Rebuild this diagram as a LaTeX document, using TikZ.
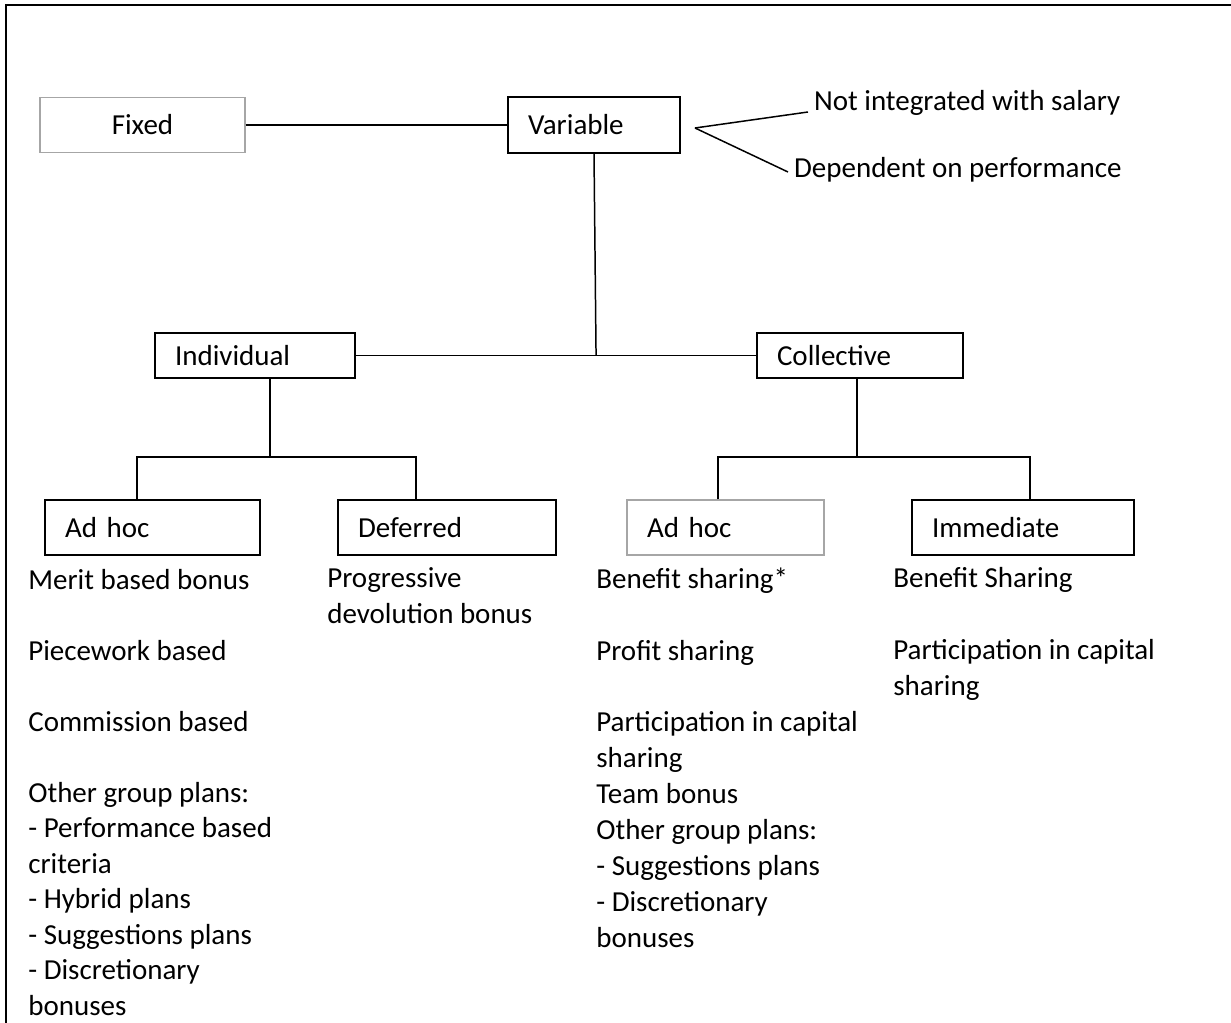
\documentclass[tikz,border=0pt]{standalone}
\usepackage{fontspec}
\setmainfont{Carlito}
\usetikzlibrary{calc}
\tikzset{
  box/.style={draw,line width=0.8pt,inner xsep=0.4cm,inner ysep=0pt,align=left,minimum height=1.1cm},
  pale/.style={draw=gray!70},
  lnk/.style={line width=0.85pt},
  stem/.style={line width=1.3pt},
  lst/.style={anchor=base west,align=left,inner sep=0pt}
}
\newcommand{\gap}{20.4pt}

\begin{document}
\begin{tikzpicture}[x=0.02cm,y=-0.02cm,font=\fontsize{16.5}{20.4}\selectfont]
\useasboundingbox (0,0) rectangle (1231,1023);
\draw[line width=1.6pt] (6,1023) -- (6,5) -- (1231,5);
% top level
\node[box,pale,align=center,text width=3.3cm] (fix) at (142.5,125) {Fixed};
\node[box,text width=2.64cm,minimum height=1.12cm] (var) at (594,125) {Variable};
\node[anchor=west,inner sep=1pt] (nis) at (812,103) {Not integrated with salary};
\node[anchor=west,inner sep=1pt] (dop) at (792,170) {Dependent on performance};
\coordinate (fork) at (695,128);
\draw[lnk] (fix.east) -- (var.west);
\draw[lnk] (fork) -- ($(nis.west)+(-4,9)$);
\draw[lnk] (fork) -- ($(dop.west)+(-4,2)$);
% second level
\node[box,text width=3.2cm,minimum height=0.9cm] (ind) at (255,355.5) {Individual};
\node[box,text width=3.32cm,minimum height=0.9cm] (col) at (860,355.5) {Collective};
\draw[lnk] (ind.east) -- (col.west);
\coordinate (mj) at ($(ind.east)!0.6!(col.west)$);
\draw[lnk] (var.south) -- (mj);
% third level
\node[box,text width=3.5cm] (ah1) at (152.5,527.5) {Ad hoc};
\node[box,text width=3.56cm] (dfr) at (447,527.5) {Deferred};
\node[box,pale,text width=3.14cm] (ah2) at (725.5,527.5) {Ad hoc};
\node[box,text width=3.64cm] (imm) at (1023,527.5) {Immediate};
\coordinate (ij) at (270,457); \coordinate (il) at (137,457); \coordinate (ir) at (416,457);
\coordinate (cj) at (857,457); \coordinate (cl) at (718,457); \coordinate (cr) at (1030,457);
\draw[stem] (ind.south -| ij) -- (ij);
\draw[stem] (ah1.north -| il) -- (il) -- (ir) -- (dfr.north -| ir);
\draw[stem] (col.south -| cj) -- (cj);
\draw[stem] (ah2.north -| cl) -- (cl) -- (cr) -- (imm.north -| cr);
% lists (anchored on the last line)
\node[lst,font=\fontsize{16.5}{20.2}\selectfont] (l1) at (28,1015) {Merit based bonus\\[20.2pt]Piecework based\\[20.2pt]Commission based\\[20.2pt]Other group plans:\\- Performance based\\criteria\\- Hybrid plans\\- Suggestions plans\\- Discretionary\\bonuses};
\node[lst] (l2) at (327,623) {Progressive\\devolution bonus};
\node[lst] (l3) at (596,947) {Benefit sharing*\\[\gap]Profit sharing\\[\gap]Participation in capital\\sharing\\Team bonus\\Other group plans:\\- Suggestions plans\\- Discretionary\\bonuses};
\node[lst] (l4) at (893,695) {Benefit Sharing\\[\gap]Participation in capital\\sharing};
\end{tikzpicture}
\end{document}
